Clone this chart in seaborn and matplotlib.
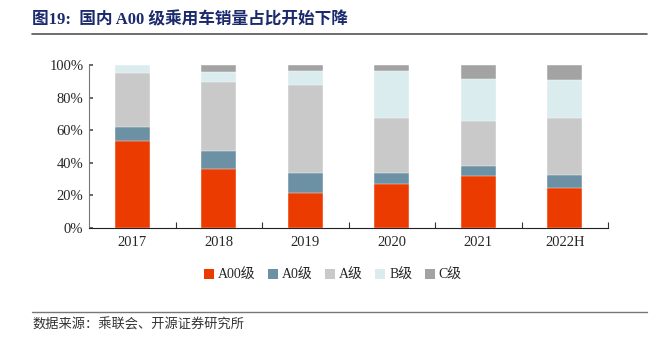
import matplotlib
matplotlib.use("Agg")
import matplotlib.pyplot as plt
from matplotlib.patches import Patch
from matplotlib.lines import Line2D
import seaborn as sns
import numpy as np
import pandas as pd

categories = ["2017", "2018", "2019", "2020", "2021", "2022H"]
a00 = [53.5, 36.5, 21.4, 27.1, 31.6, 24.3]
a0 = [8.5, 10.8, 12.5, 6.8, 6.6, 8.5]
a_cls = [33.3, 42.5, 53.7, 33.8, 27.5, 34.5]
b_cls = [4.7, 5.9, 8.7, 28.6, 25.9, 23.3]
c_cls = [0.0, 4.3, 3.7, 3.7, 8.4, 9.4]
series_names = ["A00级", "A0级", "A级", "B级", "C级"]
colors = ["#EB3B00", "#6C91A4", "#C9C9C9", "#DAECEE", "#A3A3A3"]
y_ticks = [0, 20, 40, 60, 80, 100]
y_labels = ["0%", "20%", "40%", "60%", "80%", "100%"]
title = "图19:  国内 A00 级乘用车销量占比开始下降"
source = "数据来源：乘联会、开源证券研究所"

sns.set_theme(style="white")
plt.rcParams["font.family"] = ["Liberation Serif", "Noto Sans CJK SC"]

fig = plt.figure(figsize=(6.68, 3.41), dpi=100)
ax = fig.add_axes([89/668, 1-228/341, (608-89)/668, (228-65)/341])

series = [a00, a0, a_cls, b_cls, c_cls]
cum = np.cumsum(np.array(series), axis=0)
for i in range(len(series) - 1, -1, -1):
    df = pd.DataFrame({"cat": categories, "val": cum[i]})
    sns.barplot(data=df, x="cat", y="val", color=colors[i], width=0.40,
                saturation=1, ax=ax, edgecolor="white", linewidth=0.3)

ax.set_ylim(0, 100)
ax.set_xlim(-0.5, len(categories) - 0.5)
ax.set_yticks(y_ticks)
ax.set_yticklabels(y_labels, fontsize=10.5, family="Liberation Serif")
ax.set_xticks(range(len(categories)))
ax.set_xticklabels(categories, fontsize=10.5, family="Liberation Serif")
ax.set_xlabel("")
ax.set_ylabel("")
ax.tick_params(axis="x", which="major", length=0, pad=6)
ax.set_xticks(np.arange(0.5, len(categories) - 0.4, 1.0), minor=True)
ax.tick_params(axis="x", which="minor", direction="in", length=4, color="#333333", width=0.8, bottom=True)
ax.tick_params(axis="y", direction="in", length=3, color="#555555", left=True, pad=4)
for s in ["top", "right"]:
    ax.spines[s].set_visible(False)
ax.spines["left"].set_color("#777777")
ax.spines["bottom"].set_color("#222222")
ax.spines["left"].set_linewidth(0.8)
ax.spines["bottom"].set_linewidth(0.8)

handles = [Patch(facecolor=c, edgecolor="none") for c in colors]
leg = fig.legend(handles, series_names, loc="center", bbox_to_anchor=(333/668, 1-275/341),
                 ncol=5, frameon=False, handlelength=0.7, handleheight=0.7,
                 handletextpad=0.3, columnspacing=0.9,
                 prop={"family": ["Liberation Serif", "Noto Sans CJK SC"], "size": 10})

fig.text(32/668, 1-20/341, title, fontsize=12, fontweight="bold", color="#1A2A6C",
         family=["Liberation Serif", "Noto Sans CJK SC"], va="center", ha="left")
fig.add_artist(Line2D([32/668, 647/668], [1-34/341, 1-34/341], color="#555555", linewidth=1.2))
fig.add_artist(Line2D([32/668, 647/668], [1-312/341, 1-312/341], color="#777777", linewidth=1.0))
fig.text(32/668, 1-325/341, source, fontsize=9.5, color="#333333",
         family=["Noto Sans CJK SC", "DejaVu Sans"], va="center", ha="left")

fig.savefig("out.png", dpi=100)
